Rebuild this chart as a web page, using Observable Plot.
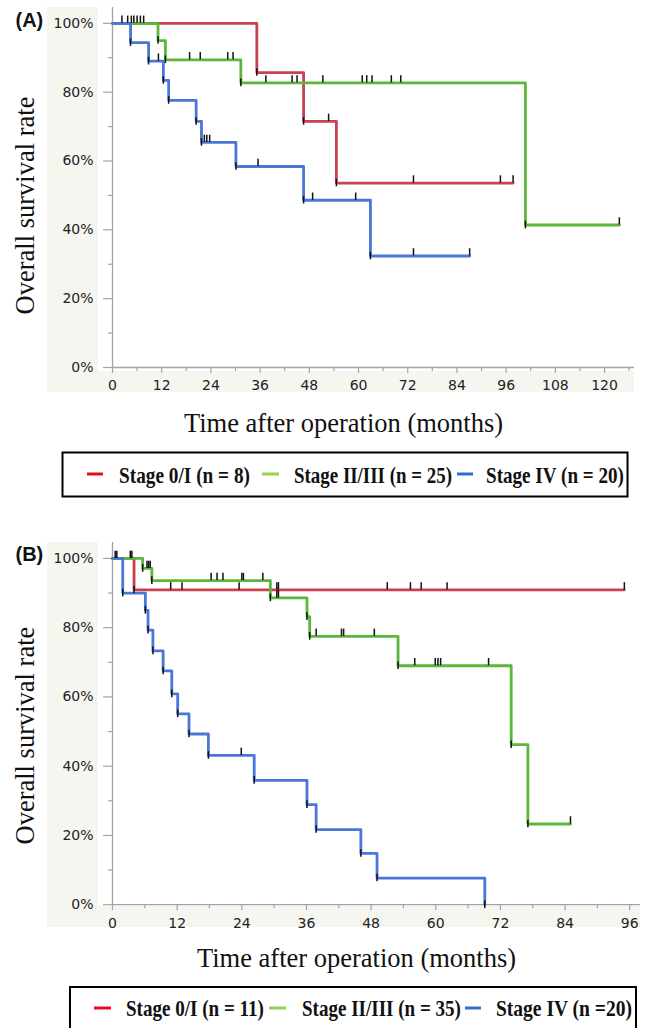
<!DOCTYPE html>
<html><head><meta charset="utf-8">
<script src="https://cdn.jsdelivr.net/npm/d3@7"></script>
<script src="https://cdn.jsdelivr.net/npm/@observablehq/plot@0.6"></script>
<style>
body{margin:0;background:#fff;}
#page{position:relative;width:647px;height:1028px;overflow:hidden;background:#fff;}
.shade{position:absolute;background:#f6f6f1;}
.slot{position:absolute;left:0;}
</style></head>
<body><div id="page">
<div class="shade" style="left:47px;top:7px;width:51px;height:385px"></div>
<div class="shade" style="left:98px;top:371px;width:536px;height:21px"></div>
<div class="shade" style="left:47px;top:542px;width:51px;height:385px"></div>
<div class="shade" style="left:98px;top:906px;width:542px;height:21px"></div>
<div id="plotA" class="slot" style="top:0"></div>
<div id="legA" class="slot" style="top:445px"></div>
<div id="plotB" class="slot" style="top:534px"></div>
<div id="legB" class="slot" style="top:980px"></div>
</div>
<script>
// ---------- data ----------
const stages = ["Stage 0/I", "Stage II/III", "Stage IV"];
const lineColors = ["#c8414f", "#5ab73a", "#4a76d8"];
const legendColors = ["#e3101c", "#98d152", "#2f6ecc"];

// Panel A: step times (months) and survival after each step
const A_red_t   = [0, 35.2, 46.6, 54.6, 97.7];
const A_red_s   = [1, 0.857, 0.715, 0.536, 0.536];
const A_red_cens = [3.7, 52.7, 73.4, 94.6, 97.7];
const A_green_t = [0, 11.1, 12.9, 31.3, 100.7, 123.6];
const A_green_s = [1, 0.95, 0.894, 0.827, 0.414, 0.414];
const A_green_cens = [4.6, 5.2, 6.0, 6.8, 7.6, 18.8, 21.4, 28.1, 29.4, 37.4, 43.8, 45.0, 51.3, 60.9, 62.0, 63.3, 68.0, 70.3, 123.6];
const A_blue_t  = [0, 4.4, 8.8, 12.4, 13.7, 20.4, 21.7, 30.1, 46.6, 62.9, 87.1];
const A_blue_s  = [1, 0.944, 0.89, 0.834, 0.776, 0.715, 0.654, 0.584, 0.486, 0.324, 0.324];
const A_blue_cens = [2.3, 11.2, 22.4, 23.0, 23.7, 35.5, 48.8, 59.3, 73.4, 87.1];
const A_legend = ["Stage 0/I (n = 8)", "Stage II/III (n = 25)", "Stage IV (n = 20)"];

// Panel B
const B_red_t   = [0, 4.0, 95.0];
const B_red_s   = [1, 0.909, 0.909];
const B_red_cens = [10.8, 12.9, 23.5, 30.5, 30.8, 51.0, 55.3, 57.3, 62.1, 95.0];
const B_green_t = [0, 5.6, 7.3, 29.3, 36.1, 36.6, 53.0, 74.0, 77.1, 85.0];
const B_green_s = [1, 0.971, 0.936, 0.886, 0.832, 0.775, 0.690, 0.462, 0.233, 0.233];
const B_green_cens = [3.3, 3.6, 6.4, 6.7, 7.0, 18.3, 19.4, 20.5, 24.0, 24.3, 27.9, 30.5, 30.8, 37.8, 42.5, 42.9, 48.6, 56.1, 59.9, 60.4, 60.9, 69.8, 85.0];
const B_blue_t  = [0, 1.9, 6.1, 6.6, 7.5, 9.4, 11.0, 12.1, 14.2, 17.8, 26.3, 36.1, 37.8, 46.1, 49.1, 69.1];
const B_blue_s  = [1, 0.90, 0.85, 0.793, 0.733, 0.675, 0.609, 0.551, 0.493, 0.431, 0.359, 0.289, 0.217, 0.148, 0.077, 0];
const B_blue_cens = [0.5, 0.8, 23.9];
const B_legend = ["Stage 0/I (n = 11)", "Stage II/III (n = 35)", "Stage IV (n =20)"];

const yMajor = [0, 0.2, 0.4, 0.6, 0.8, 1.0];
const yMinor = [0.1, 0.3, 0.5, 0.7, 0.9];
const A_xMajor = [0, 12, 24, 36, 48, 60, 72, 84, 96, 108, 120];
const A_xMinor = [6, 18, 30, 42, 54, 66, 78, 90, 102, 114, 126];
const B_xMajor = [0, 12, 24, 36, 48, 60, 72, 84, 96];
const B_xMinor = [6, 18, 30, 42, 54, 66, 78, 90];

// ---------- helpers ----------
function stepRows(series) {
  return series.flatMap(([stage, ts, ss]) => ts.map((t, i) => ({stage, t, s: ss[i]})));
}
function sAt(ts, ss, t) {
  let v = ss[0];
  for (let i = 0; i < ts.length; i++) if (ts[i] <= t) v = ss[i];
  return v;
}
function censRows(series) {
  return series.flatMap(([stage, ts, ss, cens]) => cens.map(t => ({stage, t, s: sAt(ts, ss, t)})));
}
function eventRows(series) {
  return series.flatMap(([stage, ts, ss]) =>
    ts.map((t, i) => ({stage, t, s: ss[i], drop: i > 0 && ss[i] < ss[i - 1]})).filter(d => d.drop));
}

const axisGray = "#a3a3a3";
const sans = "'DejaVu Sans', 'Liberation Sans', Arial, sans-serif";
const boldSans = "'Liberation Sans', Arial, Helvetica, sans-serif";
const serif = "'Liberation Serif', 'Times New Roman', serif";

function panel(cfg) {
  const rows = stepRows(cfg.series);
  const cens = censRows(cfg.series);
  const events = eventRows(cfg.series);
  return Plot.plot({
    width: 647, height: cfg.height,
    marginTop: cfg.mt, marginBottom: cfg.mb, marginLeft: 112, marginRight: cfg.mr,
    style: {background: "transparent", fontFamily: sans, fontSize: "14px", color: "#222", overflow: "visible"},
    x: {domain: [0, cfg.xmax]},
    y: {domain: [0, 1.046]},
    color: {domain: stages, range: lineColors},
    marks: [
      Plot.axisY({ticks: yMinor, tickSize: 4, tickFormat: () => "", stroke: axisGray, strokeWidth: 1.2, label: null}),
      Plot.axisY({ticks: yMajor, tickSize: 9, tickPadding: 10, tickFormat: d => Math.round(d * 100) + "%", stroke: axisGray, strokeWidth: 1.2, fill: "#222", fontSize: 14, fontFamily: sans, label: null}),
      Plot.axisX({ticks: cfg.xMinor, tickSize: 4, tickFormat: () => "", stroke: axisGray, strokeWidth: 1.2, label: null}),
      Plot.axisX({ticks: cfg.xMajor, tickSize: 6, tickPadding: 7, stroke: axisGray, strokeWidth: 1.2, fill: "#222", fontSize: 14, fontFamily: sans, label: null}),
      Plot.ruleX([0], {stroke: axisGray, strokeWidth: 1.3}),
      Plot.ruleY([0], {stroke: axisGray, strokeWidth: 1.3}),
      Plot.line(rows, {x: "t", y: "s", z: "stage", stroke: "stage", curve: "step-after", strokeWidth: 2.8}),
      Plot.ruleX(events, {x: "t", y1: d => d.s - 0.011, y2: d => d.s + 0.011, stroke: "#111", strokeWidth: 1.5}),
      Plot.ruleX(cens, {x: "t", y1: "s", y2: d => d.s + 0.021, stroke: "#111", strokeWidth: 1.5}),
      Plot.text([cfg.tag], {frameAnchor: "top-left", text: d => d, dx: -97, dy: cfg.tagDy, textAnchor: "start", lineAnchor: "middle", fontWeight: "bold", fontSize: 20, fontFamily: boldSans, fill: "#111"}),
      Plot.text(["Overall survival rate"], {frameAnchor: "left", text: d => d, rotate: -90, dx: -87.3, dy: cfg.yTitleDy, textAnchor: "middle", lineAnchor: "middle", fontSize: 26.5, fontFamily: serif, fill: "#111"}),
      Plot.text(["Time after operation (months)"], {frameAnchor: "bottom", text: d => d, dx: cfg.xTitleDx, dy: cfg.xTitleDy, textAnchor: "middle", lineAnchor: "middle", fontSize: 26.5, fontFamily: serif, fill: "#111"})
    ]
  });
}

const plotA = panel({
  height: 447, mt: 7, mb: 80, mr: 13, xmax: 127.3,
  xMajor: A_xMajor, xMinor: A_xMinor,
  tag: "(A)", tagDy: 13.3, yTitleDy: 18, xTitleDx: -30, xTitleDy: 55.7,
  series: [
    [stages[0], A_red_t, A_red_s, A_red_cens],
    [stages[1], A_green_t, A_green_s, A_green_cens],
    [stages[2], A_blue_t, A_blue_s, A_blue_cens]
  ]
});
document.getElementById("plotA").appendChild(plotA);

const plotB = panel({
  height: 450, mt: 8, mb: 79.8, mr: 7, xmax: 98,
  xMajor: B_xMajor, xMinor: B_xMinor,
  tag: "(B)", tagDy: 12.3, yTitleDy: 12, xTitleDx: -20, xTitleDy: 53.5,
  series: [
    [stages[0], B_red_t, B_red_s, B_red_cens],
    [stages[1], B_green_t, B_green_s, B_green_cens],
    [stages[2], B_blue_t, B_blue_s, B_blue_cens]
  ]
});
document.getElementById("plotB").appendChild(plotB);

// ---------- legends ----------
function legend(el, cfg) {
  const svg = d3.select(el).append("svg").attr("width", 647).attr("height", cfg.h)
    .style("display", "block");
  svg.append("rect").attr("x", cfg.box[0]).attr("y", cfg.box[1]).attr("width", cfg.box[2]).attr("height", cfg.box[3])
    .attr("fill", "none").attr("stroke", "#000").attr("stroke-width", 2);
  cfg.labels.forEach((lab, i) => {
    const it = cfg.items[i];
    svg.append("line").attr("x1", it[0]).attr("x2", it[1]).attr("y1", cfg.dashY).attr("y2", cfg.dashY)
      .attr("stroke", legendColors[i]).attr("stroke-width", 3);
    const g = svg.append("g");
    const t = g.append("text").attr("x", 0).attr("y", 0)
      .attr("font-family", serif).attr("font-weight", "bold").attr("font-size", 24).attr("fill", "#111")
      .text(lab);
    const natural = t.node().getComputedTextLength() || 1;
    const sx = (it[3] - it[2]) / natural;
    g.attr("transform", `translate(${it[2]},${cfg.base}) scale(${sx},1)`);
  });
}
legend(document.getElementById("legA"), {
  h: 60, box: [62.5, 7.5, 565, 44], dashY: 29, base: 38, labels: A_legend,
  items: [[87, 103, 119, 250], [262, 279, 294, 452], [457, 473, 486, 624]]
});
legend(document.getElementById("legB"), {
  h: 48, box: [70, 7, 566, 44], dashY: 28, base: 36, labels: B_legend,
  items: [[94, 111, 126, 264], [269, 286, 302, 461], [465, 481, 496, 632]]
});
</script>
</body></html>
